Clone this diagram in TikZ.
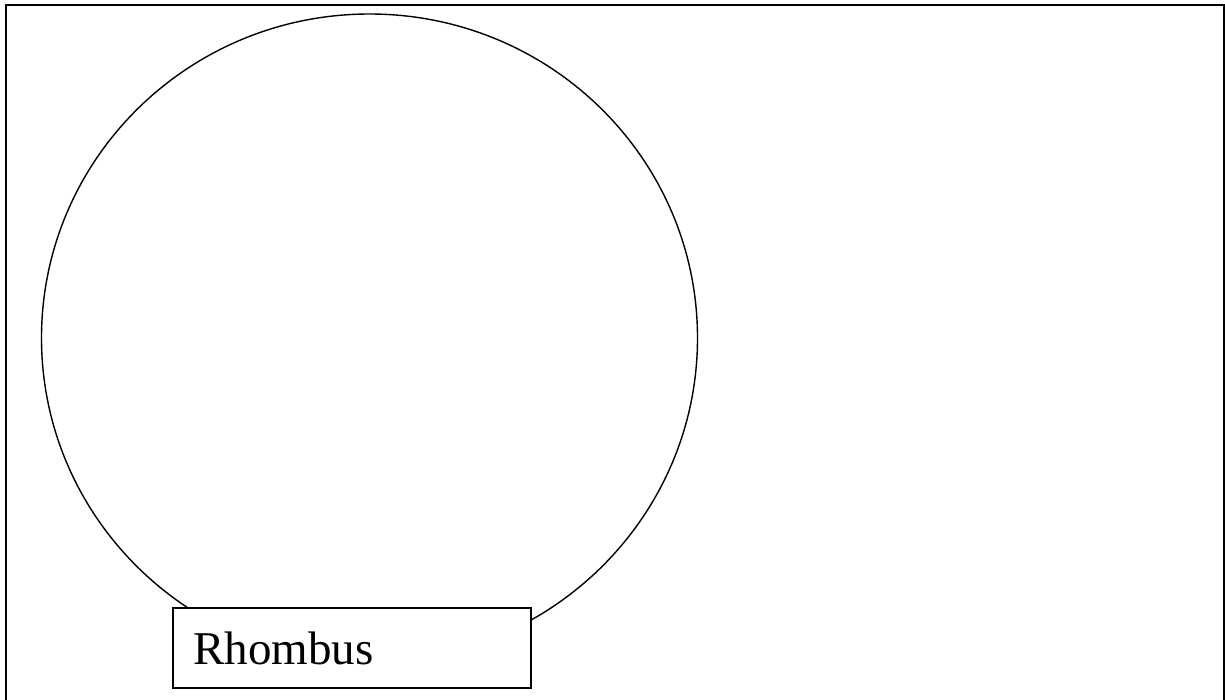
\documentclass[tikz,border=0pt]{standalone}
\usepackage{fontspec}
\setmainfont{Liberation Serif}
\usepackage{tikz}
\usetikzlibrary{shapes.geometric,positioning}

\begin{document}
\begin{tikzpicture}[x=1pt,y=-1pt]
        % Fix the page size
        \useasboundingbox (0,0) rectangle (1225,700);
        % Draw frame
        \draw[line width=2pt] (5.5,702) -- (5.5,5) -- (1223.5,5) -- (1223.5,702);
        % Draw the circle
        \node[ellipse, draw, line width=1.4pt, minimum width=656pt, minimum height=648pt,
              inner sep=0pt] (circ) at (369.5,338) {};
        % Label box
        \node[draw, fill=white, line width=1.8pt, minimum width=358pt, minimum height=80pt,
              inner sep=0pt] (box) at (352,648) {};
        \node[anchor=base west, inner sep=0pt, font=\fontsize{47}{56}\selectfont]
              (label) at (193,664) {Rhombus};
    \end{tikzpicture}
\end{document}
